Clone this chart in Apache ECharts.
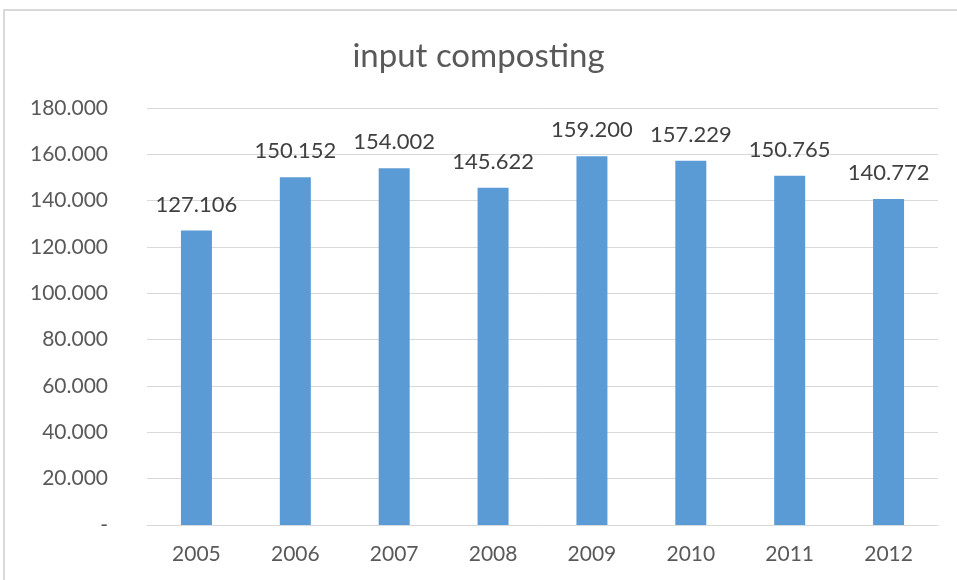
<!DOCTYPE html>
<html>
<head>
<meta charset="utf-8">
<script src="https://cdn.jsdelivr.net/npm/echarts@6/dist/echarts.min.js"></script>
<style>
  html, body { margin: 0; padding: 0; background: #fff; }
  #chart { width: 957px; height: 580px; }
</style>
</head>
<body>
<div id="chart"></div>
<script>
// data
var years = ["2005", "2006", "2007", "2008", "2009", "2010", "2011", "2012"];
var inputComposting = [127.106, 150.152, 154.002, 145.622, 159.2, 157.229, 150.765, 140.772];

var fmt = function (v) {
  return v === 0 ? "-" : v.toFixed(3);
};

var myChart = echarts.init(document.getElementById("chart"));
var option = {
  backgroundColor: "#fff",
  textStyle: { fontFamily: "Lato" },
  graphic: [
    {
      type: "rect",
      shape: { x: 4, y: 10, width: 1000, height: 700 },
      style: { fill: "none", stroke: "#d9d9d9", lineWidth: 2 },
      silent: true
    }
  ],
  title: {
    text: "input composting",
    left: "center",
    top: 35,
    textStyle: { color: "#595959", fontSize: 33, fontWeight: "normal", fontFamily: "Lato" }
  },
  grid: { left: 147, right: 19, top: 108, bottom: 55 },
  xAxis: {
    type: "category",
    data: years,
    axisLine: { lineStyle: { color: "#d9d9d9" } },
    axisTick: { show: false },
    axisLabel: { color: "#595959", fontSize: 21, margin: 19 }
  },
  yAxis: {
    type: "value",
    min: 0,
    max: 180,
    interval: 20,
    axisLine: { show: false },
    axisTick: { show: false },
    splitLine: { lineStyle: { color: "#d9d9d9" } },
    axisLabel: { color: "#595959", fontSize: 21, margin: 39, formatter: fmt }
  },
  series: [
    {
      name: "input composting",
      type: "bar",
      data: inputComposting,
      barWidth: 31,
      itemStyle: { color: "#5b9bd5" },
      label: {
        show: true,
        position: "top",
        distance: 15,
        color: "#404040",
        fontSize: 22,
        formatter: function (p) { return fmt(p.value); }
      }
    }
  ]
};
myChart.setOption(option);
</script>
</body>
</html>
